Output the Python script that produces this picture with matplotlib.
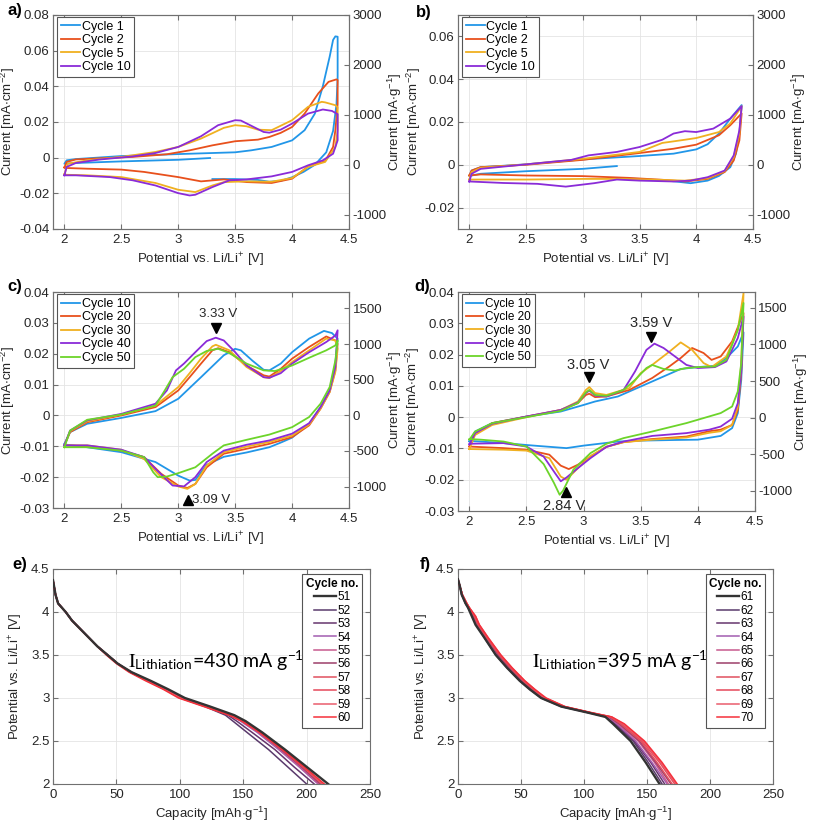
import matplotlib
matplotlib.use("Agg")
import matplotlib.pyplot as plt


# ---------------- panel a: CV, cycles 1-10 ----------------
A_C1_V = [3.28, 3.0, 2.5, 2.1, 2.0, 2.02, 2.1, 2.5, 3.0, 3.5, 3.64, 3.82, 4.0, 4.11, 4.2, 4.27, 4.33, 4.36, 4.38, 4.4,
          4.4, 4.39, 4.36, 4.3, 4.2, 4.1, 4.0, 3.9, 3.8, 3.7, 3.5, 3.3]
A_C1_I = [-0.0002, -0.0012, -0.0021, -0.0030, -0.0034, -0.0015, -0.0008, 0.0009, 0.0020, 0.0030, 0.0041, 0.0060,
          0.0097, 0.0154, 0.0247, 0.0400, 0.0566, 0.0660, 0.0680, 0.0678,
          0.0450, 0.0300, 0.0150, 0.0030, -0.0040, -0.0080, -0.0110, -0.0130, -0.0135, -0.0125, -0.0120, -0.0120]
A_C2_V = [2.0, 2.02, 2.1, 2.3, 2.6, 2.9, 3.1, 3.3, 3.5, 3.7, 3.8, 3.9, 4.0, 4.11, 4.23, 4.32, 4.39, 4.4,
          4.4, 4.38, 4.36, 4.29, 4.14, 4.0, 3.82, 3.6, 3.4, 3.2, 3.0, 2.7, 2.5, 2.2, 2.02, 2.0]
A_C2_I = [-0.0055, -0.0024, -0.0010, -0.0004, 0.0004, 0.0019, 0.0041, 0.0069, 0.0092, 0.0101, 0.0116, 0.0139,
          0.0172, 0.0247, 0.0360, 0.0425, 0.0439, 0.0435,
          0.0300, 0.0154, 0.0060, -0.0020, -0.0050, -0.0118, -0.0142, -0.0137, -0.0122, -0.0133, -0.0109, -0.0080,
          -0.0067, -0.0062, -0.0058, -0.0055]
A_C5_V = [2.0, 2.03, 2.2, 2.5, 2.8, 3.0, 3.2, 3.4, 3.5, 3.6, 3.7, 3.82, 4.0, 4.14, 4.26, 4.29, 4.38, 4.4,
          4.4, 4.38, 4.29, 4.14, 4.0, 3.82, 3.6, 3.4, 3.3, 3.15, 3.0, 2.8, 2.5, 2.2, 2.02, 2.0]
A_C5_I = [-0.0093, -0.0034, -0.0015, 0.0004, 0.0032, 0.0060, 0.0107, 0.0167, 0.0182, 0.0176, 0.0157, 0.0154,
          0.0210, 0.0285, 0.0313, 0.0310, 0.0294, 0.0282,
          0.0154, 0.0060, -0.0024, -0.0052, -0.0114, -0.0135, -0.0133, -0.0137, -0.0156, -0.0193, -0.0180, -0.0142,
          -0.0109, -0.0099, -0.0096, -0.0093]
A_C10_V = [2.0, 2.02, 2.1, 2.3, 2.6, 2.8, 3.0, 3.2, 3.35, 3.5, 3.55, 3.65, 3.75, 3.8, 3.9, 4.0, 4.14, 4.27, 4.35, 4.4,
           4.4, 4.36, 4.27, 4.14, 4.0, 3.82, 3.6, 3.45, 3.3, 3.15, 3.1, 3.0, 2.8, 2.6, 2.4, 2.1, 2.0]
A_C10_I = [-0.0099, -0.0052, -0.0030, -0.0011, 0.0007, 0.0026, 0.0060, 0.0120, 0.0182, 0.0210, 0.0208, 0.0176,
           0.0144, 0.0140, 0.0157, 0.0191, 0.0247, 0.0270, 0.0262, 0.0244,
           0.0097, 0.0022, -0.0015, -0.0043, -0.0080, -0.0105, -0.0122, -0.0127, -0.0165, -0.0208, -0.0212, -0.0199,
           -0.0156, -0.0127, -0.0109, -0.0099, -0.0099]

# ---------------- panel b: CV, cycles 1-10 ----------------
B_C1_V = [3.3, 3.0, 2.5, 2.1, 2.0, 2.02, 2.1, 2.5, 3.0, 3.5, 3.8, 4.0, 4.1, 4.2, 4.3, 4.4,
          4.38, 4.35, 4.3, 4.2, 4.1, 3.95, 3.8, 3.5, 3.3]
B_C1_I = [-0.0006, -0.0019, -0.0030, -0.0042, -0.0052, -0.0027, -0.0011, 0.0002, 0.0025, 0.0041, 0.0052, 0.0072,
          0.0096, 0.0146, 0.0216, 0.0279,
          0.0146, 0.0052, -0.0011, -0.0052, -0.0074, -0.0086, -0.0077, -0.0066, -0.0063]
B_C2_V = [2.0, 2.02, 2.1, 2.5, 3.0, 3.5, 3.8, 4.0, 4.2, 4.3, 4.4,
          4.38, 4.33, 4.25, 4.1, 3.9, 3.7, 3.4, 3.0, 2.5, 2.1, 2.0]
B_C2_I = [-0.0050, -0.0027, -0.0011, 0.0000, 0.0023, 0.0055, 0.0075, 0.0094, 0.0138, 0.0185, 0.0240,
          0.0114, 0.0020, -0.0034, -0.0066, -0.0078, -0.0070, -0.0061, -0.0053, -0.0050, -0.0045, -0.0050]
B_C5_V = [2.0, 2.02, 2.1, 2.5, 3.0, 3.5, 3.7, 3.9, 4.0, 4.2, 4.3, 4.4,
          4.38, 4.33, 4.25, 4.1, 3.9, 3.6, 3.3, 3.0, 2.5, 2.1, 2.0]
B_C5_I = [-0.0069, -0.0034, -0.0014, 0.0002, 0.0028, 0.0060, 0.0102, 0.0117, 0.0125, 0.0153, 0.0193, 0.0274,
          0.0146, 0.0036, -0.0030, -0.0063, -0.0074, -0.0069, -0.0066, -0.0066, -0.0069, -0.0069, -0.0069]
B_C10_V = [2.0, 2.02, 2.1, 2.5, 2.9, 3.05, 3.3, 3.5, 3.7, 3.8, 3.9, 4.0, 4.15, 4.3, 4.4,
           4.38, 4.33, 4.25, 4.1, 3.95, 3.8, 3.5, 3.3, 3.1, 2.85, 2.6, 2.3, 2.0]
B_C10_I = [-0.0078, -0.0042, -0.0019, 0.0002, 0.0023, 0.0044, 0.0060, 0.0083, 0.0117, 0.0146, 0.0157, 0.0153,
           0.0169, 0.0216, 0.0274,
           0.0161, 0.0044, -0.0027, -0.0058, -0.0074, -0.0078, -0.0074, -0.0069, -0.0086, -0.0102, -0.0089, -0.0085,
           -0.0078]

# ---------------- panel c: CV, cycles 10-50 ----------------
C_C10_V = [2.0, 2.05, 2.2, 2.5, 2.8, 3.0, 3.2, 3.4, 3.5, 3.55, 3.65, 3.75, 3.8, 3.9, 4.0, 4.15, 4.28, 4.35, 4.4,
           4.38, 4.33, 4.25, 4.15, 4.0, 3.9, 3.8, 3.6, 3.4, 3.25, 3.15, 3.1, 3.0, 2.8, 2.5, 2.2, 2.0]
C_C10_I = [-0.0092, -0.0054, -0.0027, -0.0008, 0.0014, 0.0054, 0.0124, 0.0195, 0.0216, 0.0211, 0.0178, 0.0148,
           0.0146, 0.0168, 0.0205, 0.0249, 0.0274, 0.0267, 0.0249,
           0.0168, 0.0081, 0.0027, -0.0027, -0.0072, -0.0088, -0.0103, -0.0120, -0.0134, -0.0160, -0.0209, -0.0211,
           -0.0195, -0.0151, -0.0119, -0.0103, -0.0094]
C_C20_V = [2.0, 2.05, 2.2, 2.5, 2.8, 3.0, 3.1, 3.2, 3.3, 3.35, 3.45, 3.6, 3.75, 3.8, 3.9, 4.0, 4.15, 4.3, 4.38, 4.4,
           4.38, 4.33, 4.25, 4.15, 4.0, 3.8, 3.6, 3.4, 3.25, 3.15, 3.08, 3.0, 2.85, 2.7, 2.5, 2.2, 2.0]
C_C20_I = [-0.0097, -0.0054, -0.0022, 0.0000, 0.0027, 0.0081, 0.0124, 0.0168, 0.0211, 0.0218, 0.0205, 0.0162,
           0.0130, 0.0126, 0.0151, 0.0184, 0.0222, 0.0256, 0.0243, 0.0232,
           0.0146, 0.0076, 0.0022, -0.0032, -0.0070, -0.0092, -0.0108, -0.0124, -0.0168, -0.0222, -0.0235, -0.0227,
           -0.0189, -0.0135, -0.0114, -0.0099, -0.0097]
C_C30_V = [2.0, 2.05, 2.2, 2.5, 2.8, 3.0, 3.1, 3.2, 3.3, 3.33, 3.45, 3.6, 3.75, 3.8, 3.9, 4.0, 4.15, 4.3, 4.38, 4.4,
           4.38, 4.33, 4.25, 4.15, 4.0, 3.8, 3.6, 3.4, 3.25, 3.15, 3.08, 3.0, 2.85, 2.7, 2.5, 2.2, 2.0]
C_C30_I = [-0.0097, -0.0051, -0.0019, 0.0003, 0.0032, 0.0092, 0.0137, 0.0184, 0.0224, 0.0229, 0.0211, 0.0157,
           0.0124, 0.0121, 0.0144, 0.0173, 0.0211, 0.0249, 0.0243, 0.0216,
           0.0141, 0.0076, 0.0022, -0.0029, -0.0065, -0.0086, -0.0101, -0.0119, -0.0162, -0.0222, -0.0238, -0.0230,
           -0.0200, -0.0141, -0.0111, -0.0097, -0.0097]
C_C40_V = [2.0, 2.05, 2.2, 2.5, 2.8, 2.9, 2.98, 3.05, 3.15, 3.25, 3.33, 3.4, 3.5, 3.6, 3.75, 3.8, 3.9, 4.0, 4.15,
           4.3, 4.38, 4.4,
           4.38, 4.33, 4.25, 4.15, 4.0, 3.8, 3.6, 3.4, 3.25, 3.15, 3.05, 2.95, 2.8, 2.7, 2.5, 2.2, 2.0]
C_C40_I = [-0.0097, -0.0049, -0.0016, 0.0005, 0.0038, 0.0081, 0.0146, 0.0168, 0.0205, 0.0241, 0.0252, 0.0243,
           0.0205, 0.0162, 0.0124, 0.0122, 0.0137, 0.0168, 0.0205, 0.0238, 0.0259, 0.0276,
           0.0157, 0.0081, 0.0027, -0.0025, -0.0059, -0.0081, -0.0095, -0.0114, -0.0151, -0.0200, -0.0230, -0.0227,
           -0.0173, -0.0135, -0.0111, -0.0097, -0.0097]
C_C50_V = [2.0, 2.05, 2.2, 2.5, 2.8, 2.88, 2.95, 3.05, 3.15, 3.25, 3.35, 3.45, 3.6, 3.75, 3.85, 4.0, 4.15, 4.3, 4.38,
           4.4,
           4.38, 4.33, 4.25, 4.15, 4.0, 3.8, 3.6, 3.4, 3.3, 3.15, 3.0, 2.9, 2.82, 2.78, 2.7, 2.5, 2.2, 2.0]
C_C50_I = [-0.0103, -0.0049, -0.0014, 0.0003, 0.0032, 0.0080, 0.0124, 0.0151, 0.0189, 0.0209, 0.0216, 0.0202,
           0.0168, 0.0146, 0.0144, 0.0162, 0.0187, 0.0211, 0.0227, 0.0243,
           0.0178, 0.0092, 0.0038, -0.0005, -0.0038, -0.0062, -0.0079, -0.0097, -0.0124, -0.0168, -0.0187, -0.0198,
           -0.0200, -0.0184, -0.0135, -0.0114, -0.0103, -0.0103]

# ---------------- panel d: CV, cycles 10-50 ----------------
D_C10_V = [2.0, 2.05, 2.2, 2.5, 2.8, 3.0, 3.1, 3.3, 3.5, 3.7, 3.85, 4.0, 4.15, 4.25, 4.35, 4.4,
           4.38, 4.35, 4.3, 4.2, 4.0, 3.8, 3.5, 3.3, 3.0, 2.85, 2.6, 2.3, 2.1, 2.0]
D_C10_I = [-0.0078, -0.0046, -0.0019, 0.0002, 0.0018, 0.0039, 0.0050, 0.0066, 0.0098, 0.0130, 0.0154, 0.0160,
           0.0164, 0.0189, 0.0226, 0.0271,
           0.0119, 0.0013, -0.0035, -0.0060, -0.0072, -0.0073, -0.0075, -0.0078, -0.0091, -0.0099, -0.0092, -0.0083,
           -0.0078, -0.0076]
D_C20_V = [2.0, 2.05, 2.2, 2.5, 2.8, 2.95, 3.02, 3.05, 3.1, 3.2, 3.4, 3.6, 3.75, 3.85, 3.95, 4.05, 4.12, 4.2, 4.3, 4.4,
           4.38, 4.35, 4.3, 4.2, 4.1, 3.9, 3.6, 3.35, 3.2, 3.06, 2.95, 2.87, 2.8, 2.7, 2.5, 2.3, 2.0]
D_C20_I = [-0.0094, -0.0051, -0.0019, 0.0002, 0.0023, 0.0045, 0.0071, 0.0075, 0.0064, 0.0066, 0.0087, 0.0125,
           0.0162, 0.0189, 0.0221, 0.0205, 0.0183, 0.0194, 0.0242, 0.0333,
           0.0141, 0.0023, -0.0025, -0.0040, -0.0045, -0.0062, -0.0070, -0.0080, -0.0095, -0.0126, -0.0152, -0.0166,
           -0.0155, -0.0120, -0.0104, -0.0099, -0.0094]
D_C30_V = [2.0, 2.05, 2.2, 2.5, 2.8, 2.95, 3.02, 3.05, 3.1, 3.2, 3.4, 3.5, 3.6, 3.75, 3.85, 3.95, 4.05, 4.12, 4.25,
           4.35, 4.4,
           4.38, 4.35, 4.3, 4.2, 4.1, 3.9, 3.6, 3.35, 3.2, 3.06, 2.95, 2.85, 2.8, 2.7, 2.5, 2.3, 2.0]
D_C30_I = [-0.0102, -0.0057, -0.0025, 0.0000, 0.0023, 0.0050, 0.0087, 0.0096, 0.0077, 0.0071, 0.0093, 0.0141,
           0.0167, 0.0209, 0.0239, 0.0215, 0.0173, 0.0160, 0.0194, 0.0279, 0.0397,
           0.0173, 0.0034, -0.0025, -0.0045, -0.0050, -0.0065, -0.0072, -0.0080, -0.0094, -0.0124, -0.0163, -0.0200,
           -0.0190, -0.0131, -0.0107, -0.0104, -0.0102]
D_C40_V = [2.0, 2.05, 2.2, 2.5, 2.8, 2.95, 3.02, 3.05, 3.1, 3.2, 3.35, 3.45, 3.55, 3.62, 3.7, 3.8, 3.9, 4.0, 4.15,
           4.25, 4.35, 4.4,
           4.38, 4.35, 4.3, 4.2, 4.1, 3.9, 3.6, 3.35, 3.2, 3.06, 2.95, 2.85, 2.8, 2.75, 2.65, 2.5, 2.3, 2.0]
D_C40_I = [-0.0088, -0.0051, -0.0021, 0.0002, 0.0023, 0.0047, 0.0077, 0.0085, 0.0069, 0.0066, 0.0087, 0.0146,
           0.0215, 0.0235, 0.0221, 0.0194, 0.0167, 0.0157, 0.0160, 0.0178, 0.0253, 0.0322,
           0.0151, 0.0045, -0.0005, -0.0030, -0.0040, -0.0051, -0.0060, -0.0078, -0.0095, -0.0131, -0.0163, -0.0193,
           -0.0205, -0.0179, -0.0126, -0.0094, -0.0083, -0.0085]
D_C50_V = [2.0, 2.05, 2.2, 2.5, 2.8, 2.95, 3.02, 3.05, 3.1, 3.2, 3.35, 3.45, 3.55, 3.6, 3.7, 3.8, 3.9, 4.0, 4.15,
           4.25, 4.35, 4.4,
           4.38, 4.35, 4.3, 4.2, 3.9, 3.6, 3.35, 3.2, 3.06, 2.91, 2.82, 2.79, 2.74, 2.65, 2.5, 2.3, 2.1, 2.0]
D_C50_I = [-0.0072, -0.0046, -0.0019, 0.0000, 0.0020, 0.0045, 0.0079, 0.0087, 0.0071, 0.0068, 0.0087, 0.0119,
           0.0157, 0.0167, 0.0154, 0.0149, 0.0157, 0.0160, 0.0162, 0.0183, 0.0279, 0.0365,
           0.0173, 0.0082, 0.0034, 0.0013, -0.0019, -0.0046, -0.0067, -0.0085, -0.0115, -0.0168, -0.0235, -0.0248,
           -0.0210, -0.0150, -0.0094, -0.0078, -0.0072, -0.0070]

# ---------------- panel e: lithiation curves, cycles 51-60 ----------------
E_POT = [4.37, 4.2, 4.1, 4.0, 3.9, 3.75, 3.6, 3.5, 3.4, 3.3, 3.2, 3.1, 3.0, 2.9, 2.8, 2.73, 2.6, 2.4, 2.2, 2.0]
E_CYCLES = ["51", "52", "53", "54", "55", "56", "57", "58", "59", "60"]
E_Q51 = [0, 2, 4, 10, 15, 25, 35, 43, 51, 62, 77, 91, 104, 124, 143, 152, 165, 183, 200, 217]
E_Q52 = [0, 2, 4, 10, 15, 25, 35, 43, 51, 61, 75, 89, 101, 120, 136, 142, 153, 170, 185, 200]
E_Q53 = [0, 2, 4, 10, 15, 25, 35, 43, 51, 61, 75, 89, 101, 121, 138, 145, 157, 175, 190, 206]
E_Q54 = [0, 2, 4, 10, 15, 25, 35, 43, 51, 61, 76, 90, 102, 122, 140, 148, 161, 178, 194, 209]
E_Q55 = [0, 2, 4, 10, 15, 25, 35, 43, 51, 61, 76, 90, 102, 122, 140, 149, 162, 179, 195, 210]
E_Q56 = [0, 2, 4, 10, 15, 25, 35, 43, 51, 62, 76, 90, 103, 123, 141, 150, 163, 180, 196, 211]
E_Q57 = [0, 2, 4, 10, 15, 25, 35, 43, 51, 61, 75, 89, 102, 122, 141, 150, 163, 181, 197, 212]
E_Q58 = [0, 2, 4, 10, 15, 25, 35, 43, 51, 61, 75, 89, 101, 121, 140, 150, 163, 181, 197, 213]
E_Q59 = [0, 2, 4, 10, 15, 25, 35, 43, 51, 61, 74, 88, 100, 120, 140, 150, 164, 182, 198, 213]
E_Q60 = [0, 2, 4, 10, 15, 25, 35, 42, 50, 60, 73, 87, 99, 119, 139, 149, 163, 181, 198, 214]

# ---------------- panel f: lithiation curves, cycles 61-70 ----------------
F_POT = [4.38, 4.3, 4.2, 4.1, 4.05, 3.95, 3.85, 3.7, 3.5, 3.35, 3.2, 3.1, 3.0, 2.9, 2.83, 2.78, 2.7, 2.5, 2.25, 2.0]
F_CYCLES = ["61", "62", "63", "64", "65", "66", "67", "68", "69", "70"]
F_Q61 = [0, 1.5, 3.0, 6.0, 8.0, 11.0, 14.0, 21, 30, 39, 49, 57, 66, 82, 103, 117, 123, 137, 149, 160]
F_Q62 = [0, 1.5, 3.0, 6.0, 8.0, 11.5, 14.5, 21, 30, 39, 49, 57, 66, 82, 103, 118, 124, 139, 151, 162]
F_Q63 = [0, 1.5, 3.0, 6.0, 8.0, 12.0, 15.0, 22, 31, 40, 50, 58, 67, 83, 104, 118, 125, 140, 153, 164]
F_Q64 = [0, 1.5, 3.0, 6.5, 8.5, 12.0, 15.0, 22, 31, 40, 50, 58, 67, 83, 104, 119, 126, 141, 154, 166]
F_Q65 = [0, 1.5, 3.0, 6.5, 8.5, 12.5, 15.5, 22, 32, 41, 51, 59, 68, 83, 104, 120, 127, 143, 156, 167]
F_Q66 = [0, 1.5, 3.5, 6.5, 8.5, 12.5, 16.0, 23, 32, 41, 51, 59, 68, 84, 104, 120, 128, 144, 157, 169]
F_Q67 = [0, 1.5, 3.5, 7.0, 9.0, 13.0, 16.0, 23, 33, 42, 52, 60, 68, 84, 105, 121, 129, 145, 158, 170]
F_Q68 = [0, 1.5, 3.5, 7.0, 9.0, 13.5, 16.5, 23, 33, 42, 52, 60, 69, 84, 105, 121, 130, 146, 160, 172]
F_Q69 = [0, 1.5, 3.5, 7.0, 9.0, 14.0, 17.0, 24, 34, 43, 53, 61, 69, 85, 105, 122, 131, 147, 161, 173]
F_Q70 = [0, 1.5, 3.5, 7.0, 9.0, 14.0, 17.0, 24, 34, 43, 53, 61, 70, 85, 106, 122, 132, 148, 162, 174]

CV_COLORS = ["#2196E8", "#E8501C", "#F0B020", "#8A2BD8", "#6CD42A"]
GAL_COLORS = ["#333333", "#5a3a6c", "#66356e", "#a25cb0", "#c85a8e",
              "#9c3e6a", "#e0505e", "#e5485a", "#ea5c6c", "#f5303a"]
SPINE = "#707070"
TXT = "#262626"

plt.rcParams.update({
    "font.family": ["Liberation Sans", "DejaVu Sans"],
    "font.size": 9.5,
    "mathtext.fontset": "stix",
    "axes.edgecolor": SPINE,
    "axes.linewidth": 0.8,
    "xtick.color": SPINE,
    "ytick.color": SPINE,
    "xtick.labelcolor": TXT,
    "ytick.labelcolor": TXT,
    "xtick.direction": "in",
    "ytick.direction": "in",
    "xtick.major.size": 3.5,
    "ytick.major.size": 3.5,
    "ytick.major.pad": 2.5,
    "legend.fontsize": 9,
})


def fmt(v, _pos=None):
    return f"{v:g}"


def cv_panel(fig, rect, curves, labels, ylim, yticks, ylim2, yticks2, leg_fs=9):
    ax = fig.add_axes(rect)
    for (v, i), lab, col in zip(curves, labels, CV_COLORS):
        ax.plot(v, i, color=col, lw=1.3, label=lab)
    ax.set_xlim(1.9, 4.5)
    ax.set_xticks([2, 2.5, 3, 3.5, 4, 4.5])
    ax.set_ylim(*ylim)
    ax.set_yticks(yticks)
    ax.xaxis.set_major_formatter(fmt)
    ax.yaxis.set_major_formatter(fmt)
    ax.tick_params(top=True, right=False)
    ax.grid(True, color="#e4e4e4", lw=0.6)
    ax.set_axisbelow(True)
    ax.set_xlabel(r"Potential vs. Li/Li$^{\mathregular{+}}$ [V]", color=TXT, labelpad=3)
    ax.set_ylabel(r"Current [mA$\cdot$cm$^{\mathregular{-2}}$]", color=TXT)
    ax.yaxis.set_label_coords(-0.12, 0.5)
    leg = ax.legend(loc="upper left", bbox_to_anchor=(0.014, 0.99), borderaxespad=0, fancybox=False,
                    edgecolor="#555555", framealpha=1, handlelength=1.5, handletextpad=0.15,
                    labelspacing=0.12, borderpad=0.3, fontsize=leg_fs)
    leg.get_frame().set_linewidth(0.8)
    ax2 = ax.twinx()
    ax2.set_ylim(*ylim2)
    ax2.set_yticks(yticks2)
    ax2.yaxis.set_major_formatter(fmt)
    ax2.set_ylabel(r"Current [mA$\cdot$g$^{\mathregular{-1}}$]", color=TXT)
    ax2.yaxis.set_label_coords(1.125, 0.5)
    return ax


def gal_panel(fig, rect, pot, caps, cycles, note):
    ax = fig.add_axes(rect)
    for k, (q, lab, col) in enumerate(zip(caps, cycles, GAL_COLORS)):
        ax.plot(q, pot, color=col, lw=1.7 if k == 0 else 1.1, label=lab, zorder=3 + (1 if k == 0 else 0))
    ax.set_xlim(0, 250)
    ax.set_ylim(2, 4.5)
    ax.set_yticks([2, 2.5, 3, 3.5, 4, 4.5])
    ax.yaxis.set_major_formatter(fmt)
    ax.tick_params(top=True, right=True)
    ax.grid(True, color="#e4e4e4", lw=0.6)
    ax.set_axisbelow(True)
    ax.set_xlabel(r"Capacity [mAh$\cdot$g$^{\mathregular{-1}}$]", color=TXT, labelpad=3)
    ax.set_ylabel(r"Potential vs. Li/Li$^{\mathregular{+}}$ [V]", color=TXT)
    ax.yaxis.set_label_coords(-0.09, 0.5)
    leg = ax.legend(loc="upper right", bbox_to_anchor=(0.975, 0.975), borderaxespad=0, fancybox=False,
                    edgecolor="#555555", framealpha=1, handlelength=1.9, handletextpad=0.1,
                    labelspacing=0.12, borderpad=0.3, fontsize=8.5,
                    title="Cycle no.", title_fontproperties={"weight": "bold", "size": 8.5})
    leg.get_frame().set_linewidth(0.8)
    ax.text(59, 3.43, note, fontsize=14, color="black", va="center", ha="left",
            family=["Lato", "DejaVu Sans"])
    return ax


fig = plt.figure(figsize=(8.13, 8.27), dpi=100)

cv_panel(fig, [0.0652, 0.7231, 0.3641, 0.2588],
         [(A_C1_V, A_C1_I), (A_C2_V, A_C2_I), (A_C5_V, A_C5_I), (A_C10_V, A_C10_I)],
         ["Cycle 1", "Cycle 2", "Cycle 5", "Cycle 10"],
         (-0.04, 0.08), [-0.04, -0.02, 0, 0.02, 0.04, 0.06, 0.08],
         (-1290, 3000), [-1000, 0, 1000, 2000, 3000])

cv_panel(fig, [0.5633, 0.7231, 0.3629, 0.2588],
         [(B_C1_V, B_C1_I), (B_C2_V, B_C2_I), (B_C5_V, B_C5_I), (B_C10_V, B_C10_I)],
         ["Cycle 1", "Cycle 2", "Cycle 5", "Cycle 10"],
         (-0.03, 0.07), [-0.02, 0, 0.02, 0.04, 0.06],
         (-1290, 3000), [-1000, 0, 1000, 2000, 3000])

ax_c = cv_panel(fig, [0.0652, 0.3857, 0.3641, 0.2612],
                [(C_C10_V, C_C10_I), (C_C20_V, C_C20_I), (C_C30_V, C_C30_I), (C_C40_V, C_C40_I),
                 (C_C50_V, C_C50_I)],
                ["Cycle 10", "Cycle 20", "Cycle 30", "Cycle 40", "Cycle 50"],
                (-0.03, 0.04), [-0.03, -0.02, -0.01, 0, 0.01, 0.02, 0.03, 0.04],
                (-1300, 1730), [-1000, -500, 0, 500, 1000, 1500])
ax_c.plot(3.33, 0.0283, marker="v", color="black", ms=7, ls="none")
ax_c.text(3.35, 0.0328, "3.33 V", ha="center", va="center", color=TXT)
ax_c.plot(3.09, -0.0273, marker="^", color="black", ms=7, ls="none")
ax_c.text(3.125, -0.0275, "3.09 V", ha="left", va="center", color=TXT)

ax_d = cv_panel(fig, [0.5633, 0.3821, 0.3653, 0.2648],
                [(D_C10_V, D_C10_I), (D_C20_V, D_C20_I), (D_C30_V, D_C30_I), (D_C40_V, D_C40_I),
                 (D_C50_V, D_C50_I)],
                ["Cycle 10", "Cycle 20", "Cycle 30", "Cycle 40", "Cycle 50"],
                (-0.03, 0.04), [-0.03, -0.02, -0.01, 0, 0.01, 0.02, 0.03, 0.04],
                (-1275, 1715), [-1000, -500, 0, 500, 1000, 1500], leg_fs=8.5)
ax_d.plot(3.05, 0.0128, marker="v", color="black", ms=7, ls="none")
ax_d.text(3.04, 0.0168, "3.05 V", ha="center", va="center", color=TXT, fontsize=10.5)
ax_d.plot(3.59, 0.0256, marker="v", color="black", ms=7, ls="none")
ax_d.text(3.59, 0.0300, "3.59 V", ha="center", va="center", color=TXT, fontsize=10.5)
ax_d.plot(2.845, -0.0238, marker="^", color="black", ms=7, ls="none")
ax_d.text(2.83, -0.0284, "2.84 V", ha="center", va="center", color=TXT, fontsize=10.5)

gal_panel(fig, [0.0652, 0.0520, 0.3899, 0.2600], E_POT,
          [E_Q51, E_Q52, E_Q53, E_Q54, E_Q55, E_Q56, E_Q57, E_Q58, E_Q59, E_Q60], E_CYCLES,
          r"$\mathrm{I}_{\mathregular{Lithiation}}$=430 mA g$^{\mathregular{-1}}$")
gal_panel(fig, [0.5633, 0.0520, 0.3875, 0.2600], F_POT,
          [F_Q61, F_Q62, F_Q63, F_Q64, F_Q65, F_Q66, F_Q67, F_Q68, F_Q69, F_Q70], F_CYCLES,
          r"$\mathrm{I}_{\mathregular{Lithiation}}$=395 mA g$^{\mathregular{-1}}$")

for lab, x, y in [("a)", 7, 11), ("b)", 416, 13), ("c)", 7, 287), ("d)", 414, 287),
                  ("e)", 12, 565), ("f)", 420, 565)]:
    fig.text(x / 813, 1 - y / 827, lab, fontsize=12, fontweight="bold", ha="left", va="center")

fig.savefig("out.png", dpi=100)
